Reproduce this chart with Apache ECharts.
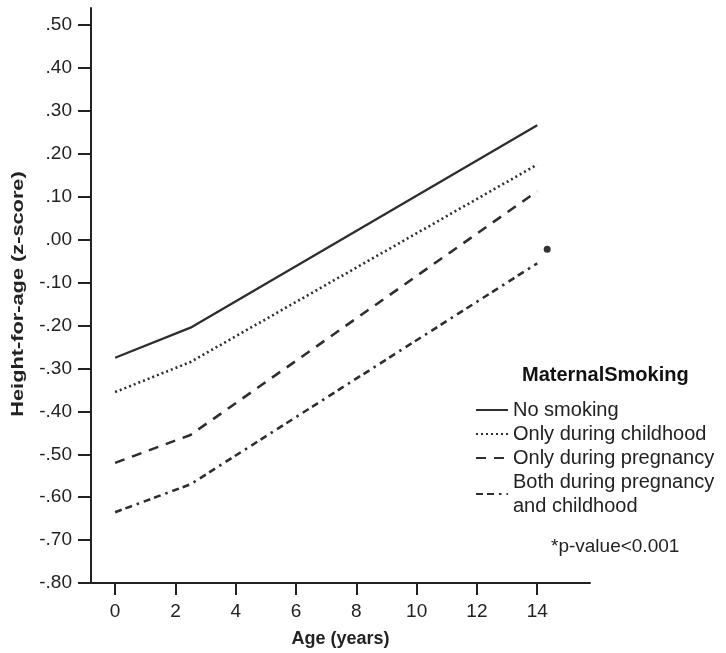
<!DOCTYPE html>
<html>
<head>
<meta charset="utf-8">
<script src="https://cdn.jsdelivr.net/npm/echarts@6/dist/echarts.min.js"></script>
<style>
  html, body { margin: 0; padding: 0; background: #fff; }
  #chart { width: 726px; height: 653px; }
</style>
</head>
<body>
<div id="chart"></div>
<script>
// Age (years) at which the fitted z-scores change slope
const ages = [0, 2.5, 14];
const noSmoking = [-0.275, -0.205, 0.267];
const onlyChildhood = [-0.355, -0.285, 0.175];
const onlyPregnancy = [-0.52, -0.455, 0.113];
const bothPeriods = [-0.635, -0.57, -0.055];
// significance marker next to the lowest curve
const markerPoint = [[14.33, -0.022]];

const seriesNames = ['No smoking', 'Only during childhood', 'Only during pregnancy', 'Both during pregnancy\nand childhood'];
const xTicks = [0, 2, 4, 6, 8, 10, 12, 14];
const yTicks = [-0.8, -0.7, -0.6, -0.5, -0.4, -0.3, -0.2, -0.1, 0, 0.1, 0.2, 0.3, 0.4, 0.5];

const ink = '#2e2e2e';
const font = 'Liberation Sans, Arial, Helvetica, sans-serif';

function pairs(ys) { return ages.map((a, i) => [a, ys[i]]); }

function zLabel(v) {
  const s = (Math.round(v * 100) / 100).toFixed(2);
  if (s === '-0.00' || s === '0.00') return '.00';
  return s.replace('-0.', '-.').replace(/^0\./, '.');
}

const lineSeries = (name, ys, type, width) => ({
  name: name,
  type: 'line',
  data: pairs(ys),
  symbol: 'none',
  smooth: false,
  color: ink,
  lineStyle: { color: ink, width: width, type: type },
  z: 3
});

const chart = echarts.init(document.getElementById('chart'), null, { renderer: 'canvas' });
chart.setOption({
  animation: false,
  backgroundColor: '#fff',
  grid: { left: 91, right: 136, top: 8, bottom: 70, containLabel: false },
  xAxis: {
    type: 'value',
    min: -0.8,
    max: 15.75,
    name: 'Age (years)',
    nameLocation: 'middle',
    nameGap: 47,
    nameTextStyle: { fontFamily: font, fontSize: 18, fontWeight: 'bold', color: '#222' },
    axisLine: { show: true, onZero: false, lineStyle: { color: '#222', width: 2 } },
    axisTick: { show: true, length: 12, customValues: xTicks, lineStyle: { color: '#222', width: 2 } },
    axisLabel: { customValues: xTicks, margin: 19, fontFamily: font, fontSize: 19, color: '#222' },
    splitLine: { show: false }
  },
  yAxis: {
    type: 'value',
    min: -0.8,
    max: 0.54,
    axisLine: { show: true, onZero: false, lineStyle: { color: '#222', width: 2 } },
    axisTick: { show: true, length: 13, customValues: yTicks, lineStyle: { color: '#222', width: 2 } },
    axisLabel: { customValues: yTicks, margin: 19, fontFamily: font, fontSize: 19, color: '#222', formatter: zLabel },
    splitLine: { show: false }
  },
  legend: {
    orient: 'vertical',
    left: 475,
    top: 398,
    padding: 0,
    itemWidth: 32,
    itemHeight: 10,
    itemGap: 0,
    data: seriesNames,
    itemStyle: { opacity: 0 },
    textStyle: { fontFamily: font, fontSize: 20, color: '#222', lineHeight: 24 },
    inactiveColor: '#ccc'
  },
  graphic: [
    {
      // vertical axis title, drawn slightly elongated along its reading direction
      type: 'text',
      x: 19,
      y: 294,
      rotation: Math.PI / 2,
      scaleX: 1.36,
      style: {
        text: 'Height-for-age (z-score)',
        font: 'bold 16px ' + font,
        fill: '#222',
        textAlign: 'center',
        textVerticalAlign: 'middle'
      }
    },
    {
      type: 'text',
      left: 522,
      top: 365,
      style: { text: 'MaternalSmoking', font: 'bold 20px ' + font, fill: '#111' }
    },
    {
      type: 'text',
      left: 551,
      top: 537,
      style: { text: '*p-value<0.001', font: '19px ' + font, fill: '#222' }
    }
  ],
  series: [
    lineSeries(seriesNames[0], noSmoking, 'solid', 2.3),
    lineSeries(seriesNames[1], onlyChildhood, [2, 3], 2.6),
    lineSeries(seriesNames[2], onlyPregnancy, [10, 8], 2.6),
    lineSeries(seriesNames[3], bothPeriods, [7, 4, 7, 5, 2.5, 5], 2.6),
    {
      name: 'marker',
      type: 'scatter',
      data: markerPoint,
      symbol: 'circle',
      symbolSize: 7,
      itemStyle: { color: '#000' },
      z: 4
    }
  ]
});
</script>
</body>
</html>
